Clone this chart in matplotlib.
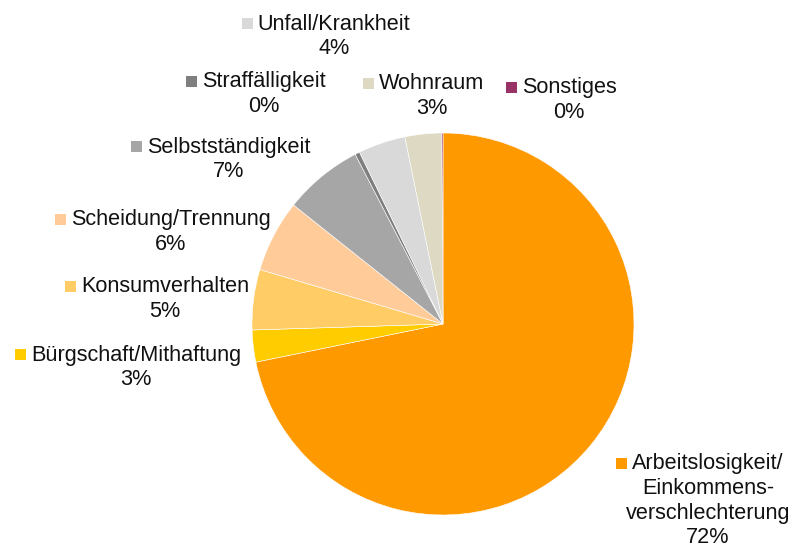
import numpy as np
import matplotlib.pyplot as plt
import matplotlib.patches as patches

plt.rcParams['font.family'] = ['Liberation Sans', 'DejaVu Sans']

# Daten (Uhrzeigersinn ab 12 Uhr)
kategorien = ['Arbeitslosigkeit/\nEinkommens-\nverschlechterung', 'Bürgschaft/Mithaftung',
              'Konsumverhalten', 'Scheidung/Trennung', 'Selbstständigkeit', 'Straffälligkeit',
              'Unfall/Krankheit', 'Wohnraum', 'Sonstiges']
anteile = [71.8, 2.7, 5.1, 6.1, 6.7, 0.4, 4.0, 3.1, 0.1]
farben = ['#FF9900', '#FFCC00', '#FFCC66', '#FFCC99', '#A6A6A6', '#7F7F7F',
          '#D9D9D9', '#DDD9C3', '#993366']

# Beschriftungsposition in Pixeln (Mitte der ersten Zeile)
label_pos = [(708, 464), (136, 355), (165, 287), (171, 220), (229, 147),
             (264, 82), (334, 24), (432, 84), (569, 88)]

W, H = 795, 549
fig = plt.figure(figsize=(W / 100, H / 100), dpi=100)

# Kreis: Mitte (443, 324), Radius 191 px
ax = fig.add_axes([252 / W, (H - 324 - 191) / H, 382 / W, 382 / H])
ax.pie(anteile, colors=farben, startangle=90, counterclock=False,
       wedgeprops=dict(linewidth=0.4, edgecolor='white'))
ax.set_xlim(-1, 1)
ax.set_ylim(-1, 1)
ax.axis('off')

ersteZeilen = []
for name, wert, farbe, (x, y) in zip(kategorien, anteile, farben, label_pos):
    zeilen = name.split('\n') + [f'{round(wert)}%']
    for i, z in enumerate(zeilen):
        t = fig.text(x / W, 1 - (y + i * 24.5) / H, z, ha='center', va='center',
                     fontsize=15.6, color='#111111')
        if i == 0:
            ersteZeilen.append((t, farbe))

# kleine Farbquadrate links neben der ersten Zeile
fig.canvas.draw()
r = fig.canvas.get_renderer()
for t, farbe in ersteZeilen:
    bb = t.get_window_extent(r)
    sq = patches.Rectangle(((bb.x0 - 16) / W, (bb.y0 + bb.height / 2 - 5) / H), 11 / W, 11 / H,
                           facecolor=farbe, edgecolor='none', transform=fig.transFigure)
    fig.add_artist(sq)

fig.savefig('out.png', dpi=100)
